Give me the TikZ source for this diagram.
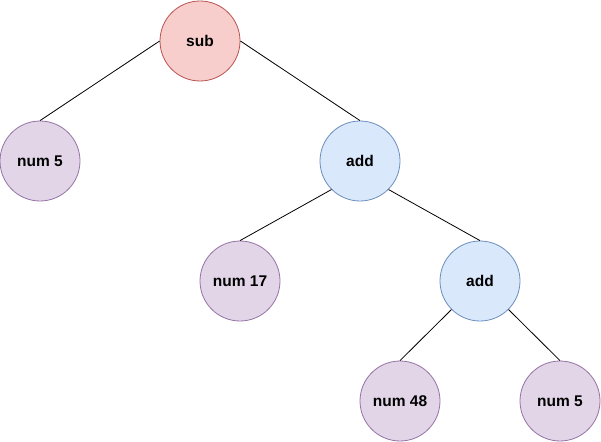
\documentclass[tikz,border=0pt]{standalone}
\usepackage{fontspec}
\setmainfont{Liberation Sans}
\usepackage{tikz}
\usetikzlibrary{positioning}

\definecolor{subfill}{HTML}{F8CECC}
\definecolor{subline}{HTML}{B85450}
\definecolor{addfill}{HTML}{DAE8FC}
\definecolor{addline}{HTML}{6C8EBF}
\definecolor{numfill}{HTML}{E1D5E7}
\definecolor{numline}{HTML}{9673A6}

\begin{document}
\begin{tikzpicture}[x=1pt, y=1pt, node distance=120pt, line width=0.8pt,
	every node/.style={shape=circle, minimum size=80pt, inner sep=0pt, line width=0.8pt, font=\fontsize{15.5}{18}\selectfont\bfseries},
	subnode/.style={draw=subline, fill=subfill},
	addnode/.style={draw=addline, fill=addfill},
	numnode/.style={draw=numline, fill=numfill}]
	\useasboundingbox (0,0) rectangle (601,-441);
	\node (sub) at (200,-41) [subnode] {sub};
	\node (numA) [below of=sub, xshift=-160pt, numnode] {num 5};
	\node (addA) [below of=sub, xshift=160pt, addnode] {add};
	\node (numB) [below of=addA, xshift=-120pt, numnode] {num 17};
	\node (addB) [below of=addA, xshift=120pt, addnode] {add};
	\node (numC) [below of=addB, xshift=-80pt, numnode] {num 48};
	\node (numD) [below of=addB, xshift=80pt, numnode] {num 5};

	\draw (sub.west) -- (numA.north);
	\draw (sub.east) -- (addA.north);
	\draw (addA.south west) -- (numB.north);
	\draw (addA.south east) -- (addB.north);
	\draw (addB.south west) -- (numC.north);
	\draw (addB.south east) -- (numD.north);
\end{tikzpicture}
\end{document}
